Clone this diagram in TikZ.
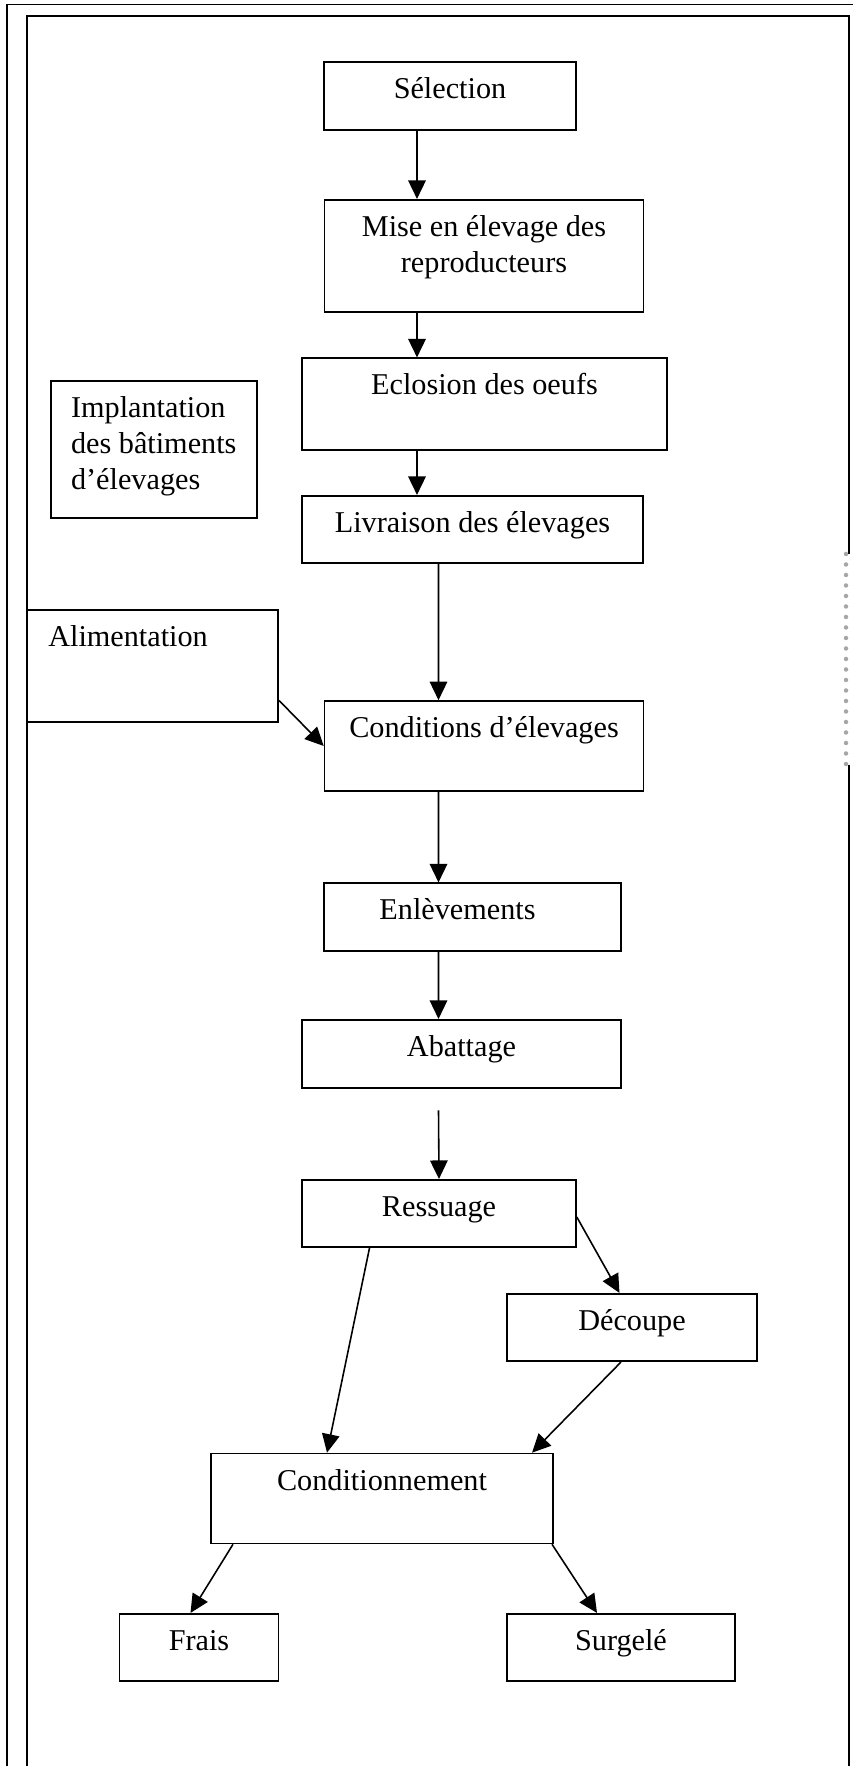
\documentclass[tikz,border=0pt]{standalone}
\usepackage{fontspec}
\setmainfont{Liberation Serif}
\usetikzlibrary{arrows.meta}

\begin{document}
\begin{tikzpicture}[
	box/.style 2 args={draw, line width=0.9pt, inner sep=0pt, minimum width=#1, minimum height=#2},
	txt/.style={anchor=base, yshift=-0.75cm, inner sep=0pt, align=center, font=\fontsize{17.2}{20.5}\selectfont},
	flow/.style={line width=0.9pt, -{Triangle[length=3.7mm, width=3.5mm]}}]
	\useasboundingbox (0,0) rectangle (17.06,35.32);

	% double frame
	\draw [line width=0.9pt] (0.14,0) -- (0.14,35.23) -- (17.06,35.23);
	\draw [line width=0.9pt] (0.54,0) -- (0.54,35.00) -- (16.98,35.00) -- (16.98,24.24);
	\draw [line width=0.9pt] (16.98,20.02) -- (16.98,0);
	\draw [gray!70, line width=0.09cm, line cap=round, dash pattern=on 0pt off 0.21cm] (16.92,24.24) -- (16.92,20.02);

	% base of a multi-line label is its last line: shift one line per extra line
	\node [box={5.03cm}{1.35cm}, label={[txt]north:Sélection}] (sel) at (9.00,33.40) {};
	\node [box={6.38cm}{2.25cm}, label={[txt, yshift=-0.723cm]north:Mise en élevage des\\reproducteurs}] (mise) at (9.68,30.20) {};
	\node [box={7.30cm}{1.83cm}, label={[txt]north:Eclosion des oeufs}] (eclo) at (9.69,27.24) {};
	\node [box={4.12cm}{2.75cm}, label={[txt, anchor=base west, xshift=0.41cm, yshift=-1.446cm, align=left]north west:Implantation\\des bâtiments\\d’élevages}] (impl) at (3.08,26.33) {};
	\node [box={6.83cm}{1.35cm}, label={[txt]north:Livraison des élevages}] (livr) at (9.45,24.73) {};
	\node [box={5.03cm}{2.25cm}, label={[txt, anchor=base west, xshift=0.44cm]north west:Alimentation}] (alim) at (3.05,22.00) {};
	\node [box={6.38cm}{1.80cm}, label={[txt]north:Conditions d’élevages}] (cond) at (9.68,20.40) {};
	\node [box={5.93cm}{1.35cm}, label={[txt, xshift=-0.30cm]north:Enlèvements}] (enlv) at (9.45,16.98) {};
	\node [box={6.38cm}{1.37cm}, label={[txt]north:Abattage}] (abat) at (9.23,14.24) {};
	\node [box={5.48cm}{1.35cm}, label={[txt]north:Ressuage}] (ress) at (8.78,11.05) {};
	\node [box={5.00cm}{1.35cm}, label={[txt]north:Découpe}] (deco) at (12.64,8.77) {};
	\node [box={6.85cm}{1.80cm}, label={[txt]north:Conditionnement}] (cdnt) at (7.64,5.35) {};
	\node [box={3.18cm}{1.35cm}, label={[txt]north:Frais}] (frai) at (3.98,2.37) {};
	\node [box={4.55cm}{1.35cm}, label={[txt]north:Surgelé}] (surg) at (12.42,2.37) {};
	\coordinate (gap) at (8.77,13.11);

	\draw [flow] ([xshift=-0.66cm]sel.south) -- ([xshift=-1.34cm]mise.north);
	\draw [flow] ([xshift=-1.34cm]mise.south) -- ([xshift=-1.35cm]eclo.north);
	\draw [flow] ([xshift=-1.35cm]eclo.south) -- ([xshift=-1.11cm]livr.north);
	\draw [flow] ([xshift=-0.68cm]livr.south) -- ([xshift=-0.91cm]cond.north);
	\draw [flow] ([yshift=-0.69cm]alim.east) -- (cond.west);
	\draw [flow] ([xshift=-0.91cm]cond.south) -- ([xshift=-0.68cm]enlv.north);
	\draw [flow] ([xshift=-0.68cm]enlv.south) -- ([xshift=-0.46cm]abat.north);
	\draw [flow] (gap) -- (ress.north);
	\draw [flow] ([yshift=-0.07cm]ress.east) -- ([xshift=-0.25cm]deco.north);
	\draw [flow] ([xshift=-1.39cm]ress.south) -- ([xshift=-1.10cm]cdnt.north);
	\draw [flow] ([xshift=-0.22cm]deco.south) -- ([xshift=3.00cm]cdnt.north);
	\draw [flow] ([xshift=-2.98cm]cdnt.south) -- ([xshift=-0.17cm]frai.north);
	\draw [flow] ([xshift=3.40cm]cdnt.south) -- ([xshift=-0.48cm]surg.north);
\end{tikzpicture}
\end{document}
